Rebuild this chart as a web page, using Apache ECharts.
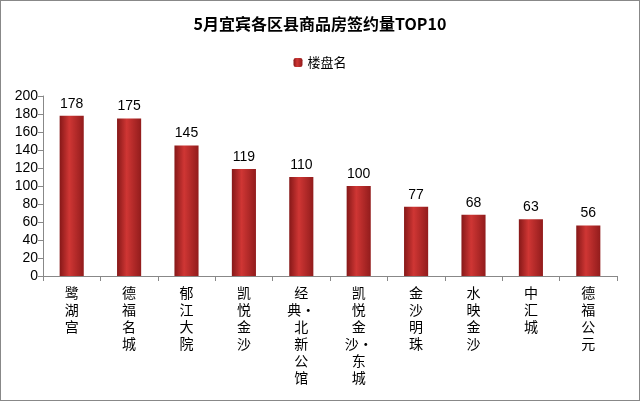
<!DOCTYPE html>
<html><head><meta charset="utf-8">
<script src="https://cdn.jsdelivr.net/npm/echarts@6/dist/echarts.min.js"></script>
<style>html,body{margin:0;padding:0;background:#fff}#c{width:638px;height:399px;border:1px solid #888}</style>
</head><body><div id="c"></div>
<script>
const categories = ["鹭湖宫","德福名城","郁江大院","凯悦金沙","经典·北新公馆","凯悦金沙·东城","金沙明珠","水映金沙","中汇城","德福公元"];
const values = [178,175,145,119,110,100,77,68,63,56];
const seriesName = "楼盘名";
const chart = echarts.init(document.getElementById('c'));
function vert(s){
  const out=[];
  for(const ch of s){ if(ch==='·'&&out.length) out[out.length-1]+=ch; else out.push(ch); }
  return out.join('\n');
}
chart.setOption({
  animation:false,
  title:{text:'5月宜宾各区县商品房签约量TOP10',left:'center',top:10,textStyle:{fontSize:16,fontWeight:'bold',color:'#000',fontFamily:'Noto Sans CJK SC'}},
  legend:{data:[seriesName],top:50,left:'center',itemWidth:9,itemHeight:9,textStyle:{fontSize:13,color:'#000',fontFamily:'Noto Sans CJK SC'}},
  grid:{left:42,right:22,top:95,bottom:124},
  xAxis:{type:'category',data:categories,axisTick:{show:true,alignWithLabel:false,length:5,lineStyle:{color:'#888'}},
    axisLine:{lineStyle:{color:'#888'}},
    axisLabel:{interval:0,formatter:vert,color:'#000',fontSize:14,lineHeight:17,fontFamily:'Noto Sans CJK SC'}},
  yAxis:{type:'value',min:0,max:200,interval:20,axisLine:{show:true,lineStyle:{color:'#888'}},axisTick:{show:true,lineStyle:{color:'#888'}},
    splitLine:{show:false},axisLabel:{color:'#000',fontSize:14,margin:5}},
  series:[{name:seriesName,type:'bar',data:values,barWidth:'42%',
    itemStyle:{color:new echarts.graphic.LinearGradient(0,0,1,0,[{offset:0,color:'#861818'},{offset:0.4,color:'#cf3634'},{offset:1,color:'#921c1c'}])},
    label:{show:true,position:'top',color:'#000',fontSize:14}}]
});
</script></body></html>
